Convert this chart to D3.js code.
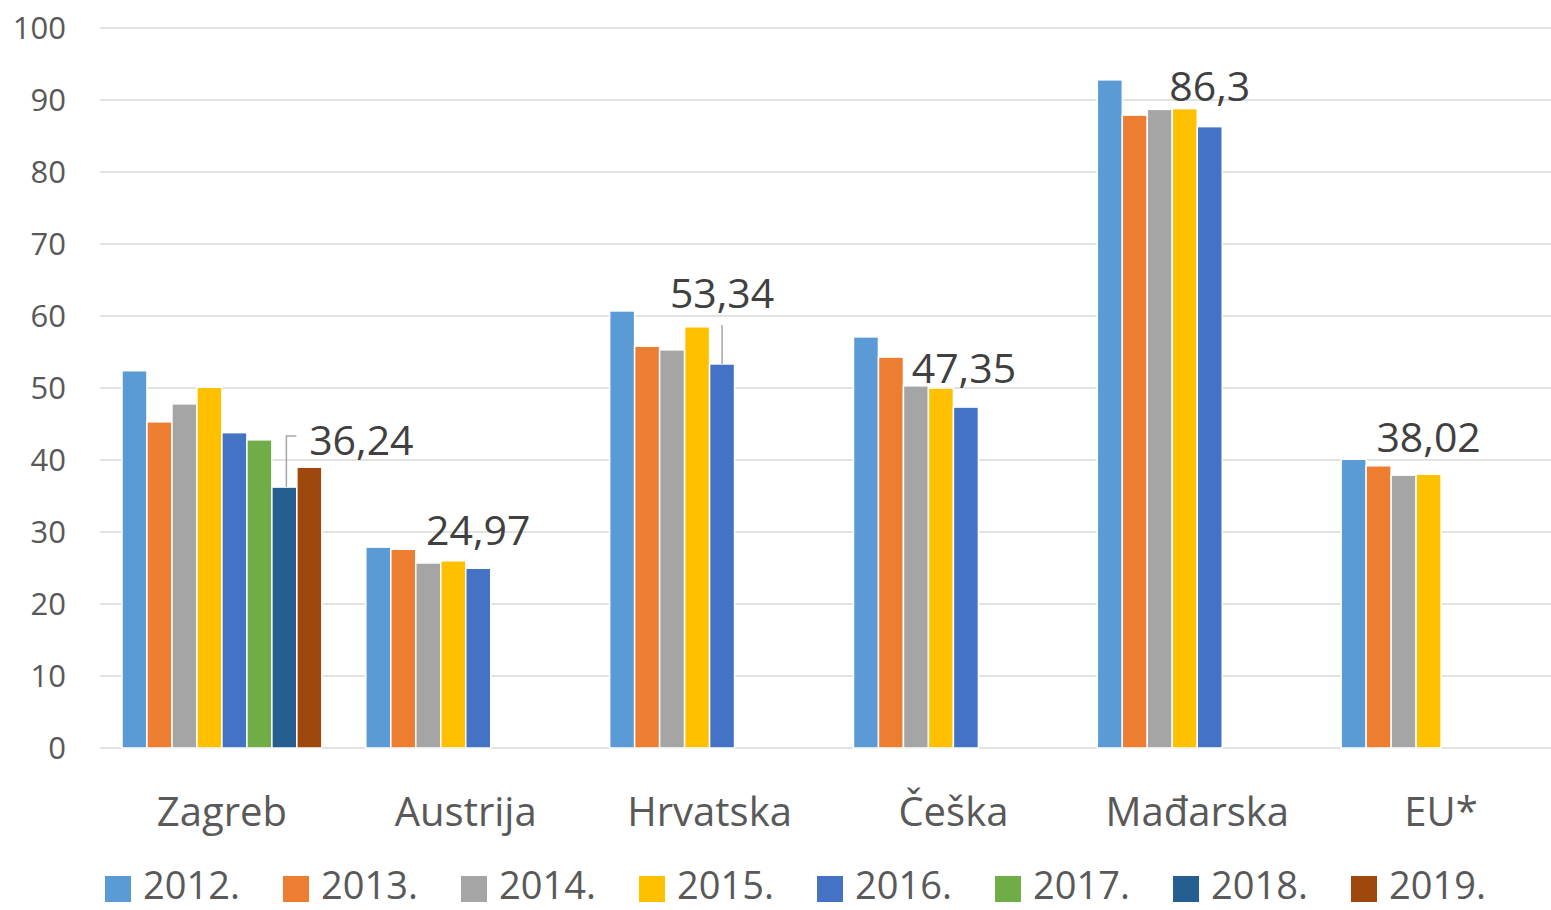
<!DOCTYPE html>
<html>
	<head>
		<meta charset="utf-8" />
		<script src="https://d3js.org/d3.v7.min.js"></script>
		<style>
			body {
				margin: 0;
				background: #fff;
			}
			text {
				font-family: 'Open Sans', sans-serif;
			}
			.grid line {
				stroke: #d9d9d9;
				stroke-width: 1.5px;
			}
		</style>
	</head>
	<body>
		<svg id="chart" width="1551" height="910"></svg>
		<script>
			// data
			const categories = ['Zagreb', 'Austrija', 'Hrvatska', 'Češka', 'Mađarska', 'EU*'];
			const years = ['2012.', '2013.', '2014.', '2015.', '2016.', '2017.', '2018.', '2019.'];
			const colors = ['#5b9bd5', '#ed7d31', '#a5a5a5', '#ffc000', '#4472c4', '#70ad47', '#255e91', '#9e480e'];
			const zagreb = [52.4, 45.3, 47.8, 50.1, 43.8, 42.8, 36.24, 39.0];
			const austrija = [27.9, 27.6, 25.7, 26.0, 24.97];
			const hrvatska = [60.7, 55.8, 55.3, 58.5, 53.34];
			const ceska = [57.1, 54.3, 50.3, 50.0, 47.35];
			const madjarska = [92.8, 87.9, 88.7, 88.8, 86.3];
			const eu = [40.1, 39.2, 37.9, 38.02];
			const series = [zagreb, austrija, hrvatska, ceska, madjarska, eu];
			// which bar carries the value label in each group
			const labelled = [6, 4, 4, 4, 4, 3];
			const yTicks = [0, 10, 20, 30, 40, 50, 60, 70, 80, 90, 100];

			const svg = d3.select('#chart');
			const margin = { top: 28, left: 100, bottom: 162 };
			const height = 910;

			const x = d3.scaleBand().domain(categories).range([margin.left, 1563]).padding(0);
			const xInner = d3.scaleBand().domain(years).range([0, x.bandwidth()]).paddingInner(0).paddingOuter(0.88);
			const y = d3.scaleLinear().domain([0, 100]).range([height - margin.bottom, margin.top]);

			// gridlines
			svg.append('g')
				.attr('class', 'grid')
				.selectAll('line')
				.data(yTicks)
				.join('line')
				.attr('x1', margin.left)
				.attr('x2', 1551)
				.attr('y1', (d) => y(d))
				.attr('y2', (d) => y(d));

			// y axis labels
			svg.append('g')
				.selectAll('text')
				.data(yTicks)
				.join('text')
				.attr('x', 66)
				.attr('y', (d) => y(d))
				.attr('dy', '0.36em')
				.attr('text-anchor', 'end')
				.attr('fill', '#595959')
				.style('font-size', '31px')
				.text((d) => d);

			// bars
			const groups = svg
				.selectAll('g.cat')
				.data(categories)
				.join('g')
				.attr('class', 'cat')
				.attr('transform', (d) => `translate(${x(d)},0)`);

			groups
				.selectAll('rect')
				.data((d, i) => series[i].map((v, j) => ({ v: v, year: years[j], j: j })))
				.join('rect')
				.attr('x', (d) => xInner(d.year))
				.attr('width', xInner.bandwidth())
				.attr('y', (d) => y(d.v))
				.attr('height', (d) => y(0) - y(d.v))
				.attr('fill', (d) => colors[d.j])
				.attr('stroke', '#fff')
				.attr('stroke-width', 1.5);

			// category labels
			svg.append('g')
				.selectAll('text')
				.data(categories)
				.join('text')
				.attr('x', (d) => x(d) + x.bandwidth() / 2)
				.attr('y', 826)
				.attr('text-anchor', 'middle')
				.attr('fill', '#595959')
				.style('font-size', '40px')
				.text((d) => d);

			// value labels (Excel lets some be dragged away, with a leader line)
			const labelShift = [
				{ dx: 77, dy: -32, leader: true },
				{ dx: 0, dy: -23 },
				{ dx: 0, dy: -56, leader: true },
				{ dx: -2, dy: -24 },
				{ dx: 0, dy: -26 },
				{ dx: 0, dy: -22 }
			];
			categories.forEach((c, i) => {
				const j = labelled[i];
				const v = series[i][j];
				const cx = x(c) + xInner(years[j]) + xInner.bandwidth() / 2;
				const top = y(v);
				const s = labelShift[i];
				if (s.leader) {
					let pts;
					if (s.dx > 20) {
						pts = [
							[cx + 2, top],
							[cx + 2, top + s.dy - 19],
							[cx + 12, top + s.dy - 19]
						];
					} else {
						pts = [
							[cx, top],
							[cx, top + s.dy + 17]
						];
					}
					svg.append('path').attr('d', d3.line()(pts)).attr('fill', 'none').attr('stroke', '#a6a6a6').attr('stroke-width', 1.5);
				}
				svg.append('text')
					.attr('x', cx + s.dx)
					.attr('y', top + s.dy)
					.attr('text-anchor', 'middle')
					.attr('fill', '#404040')
					.style('font-size', '41px')
					.text(String(v).replace('.', ','));
			});

			// legend
			const legend = svg
				.append('g')
				.selectAll('g')
				.data(years)
				.join('g')
				.attr('transform', (d, i) => `translate(${105 + i * 178},876)`);
			legend
				.append('rect')
				.attr('width', 26)
				.attr('height', 26)
				.attr('fill', (d, i) => colors[i]);
			legend
				.append('text')
				.attr('x', 38)
				.attr('y', 23)
				.attr('fill', '#595959')
				.style('font-size', '38px')
				.text((d) => d);
		</script>
	</body>
</html>
